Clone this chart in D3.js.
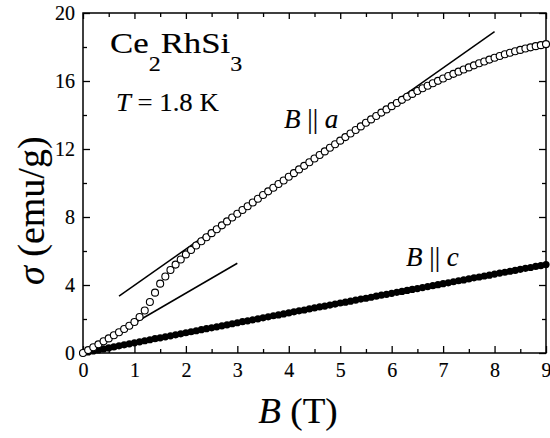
<!DOCTYPE html>
<html>
<head>
<meta charset="utf-8">
<script src="https://cdn.jsdelivr.net/npm/d3@7/dist/d3.min.js"></script>
<style>
  html, body { margin: 0; padding: 0; background: #fff; }
  svg { display: block; }
  svg text { font-family: "Liberation Serif", "Times New Roman", "Tinos", "DejaVu Serif", "Noto Serif", serif; }
</style>
</head>
<body>
<svg id="chart" width="550" height="438"></svg>
<script>
// Magnetic field (T)
const fieldT = [
  0.0, 0.1, 0.2, 0.3, 0.4, 0.5, 0.6, 0.7, 0.8, 0.9,
  1.0, 1.1, 1.2, 1.3, 1.4, 1.5, 1.6, 1.7, 1.8, 1.9,
  2.0, 2.1, 2.2, 2.3, 2.4, 2.5, 2.6, 2.7, 2.8, 2.9,
  3.0, 3.1, 3.2, 3.3, 3.4, 3.5, 3.6, 3.7, 3.8, 3.9,
  4.0, 4.1, 4.2, 4.3, 4.4, 4.5, 4.6, 4.7, 4.8, 4.9,
  5.0, 5.1, 5.2, 5.3, 5.4, 5.5, 5.6, 5.7, 5.8, 5.9,
  6.0, 6.1, 6.2, 6.3, 6.4, 6.5, 6.6, 6.7, 6.8, 6.9,
  7.0, 7.1, 7.2, 7.3, 7.4, 7.5, 7.6, 7.7, 7.8, 7.9,
  8.0, 8.1, 8.2, 8.3, 8.4, 8.5, 8.6, 8.7, 8.8, 8.9,
  9.0
];

// Magnetization (emu/g), field along a
const sigmaA = [
  0.00, 0.17, 0.34, 0.51, 0.69, 0.86, 1.04, 1.22, 1.41, 1.60,
  1.82, 2.12, 2.50, 3.00, 3.55, 4.08, 4.50, 4.88, 5.20, 5.50,
  5.80, 6.06, 6.32, 6.57, 6.81, 7.05, 7.28, 7.51, 7.74, 7.97,
  8.19, 8.41, 8.63, 8.85, 9.07, 9.29, 9.51, 9.72, 9.94, 10.15,
  10.37, 10.58, 10.80, 11.01, 11.22, 11.44, 11.65, 11.86, 12.07, 12.28,
  12.49, 12.70, 12.91, 13.12, 13.33, 13.54, 13.74, 13.94, 14.14, 14.33,
  14.52, 14.71, 14.89, 15.07, 15.24, 15.41, 15.57, 15.72, 15.87, 16.01,
  16.15, 16.29, 16.42, 16.55, 16.68, 16.80, 16.92, 17.04, 17.15, 17.26,
  17.37, 17.47, 17.57, 17.66, 17.75, 17.83, 17.91, 17.98, 18.05, 18.11,
  18.17
];

// Magnetization (emu/g), field along c
const sigmaC = [
  0.00, 0.06, 0.12, 0.18, 0.24, 0.30, 0.36, 0.42, 0.48, 0.54,
  0.60, 0.66, 0.72, 0.78, 0.84, 0.89, 0.95, 1.01, 1.07, 1.13,
  1.19, 1.25, 1.31, 1.37, 1.43, 1.48, 1.54, 1.60, 1.66, 1.72,
  1.78, 1.84, 1.89, 1.95, 2.01, 2.07, 2.13, 2.19, 2.24, 2.30,
  2.36, 2.42, 2.48, 2.53, 2.59, 2.65, 2.71, 2.76, 2.82, 2.88,
  2.94, 2.99, 3.05, 3.11, 3.17, 3.22, 3.28, 3.34, 3.40, 3.45,
  3.51, 3.57, 3.62, 3.68, 3.74, 3.79, 3.85, 3.91, 3.96, 4.02,
  4.08, 4.13, 4.19, 4.25, 4.30, 4.36, 4.42, 4.47, 4.53, 4.58,
  4.64, 4.70, 4.75, 4.81, 4.86, 4.92, 4.98, 5.03, 5.09, 5.14,
  5.20
];

// Straight guide lines: low-field and high-field linear regimes
const lowFitB = [0.0, 3.0];
const lowFitS = [0.0, 5.28];
const highFitB = [0.7, 8.0];
const highFitS = [3.34, 18.9];

// Axis ticks
const xMajor = [0, 1, 2, 3, 4, 5, 6, 7, 8, 9];
const xMinor = [0.5, 1.5, 2.5, 3.5, 4.5, 5.5, 6.5, 7.5, 8.5];
const yMajor = [0, 4, 8, 12, 16, 20];
const yMinor = [2, 6, 10, 14, 18];

const SERIF = "'Liberation Serif', 'Times New Roman', Tinos, 'DejaVu Serif', 'Noto Serif', serif";
const INK = 0.15; // slight outline so glyphs read as heavy as printed type

const svg = d3.select("#chart");
const L = 83, R = 546, T = 13, B = 353;

const x = d3.scaleLinear().domain([0, 9]).range([L, R]);
const y = d3.scaleLinear().domain([0, 20]).range([B, T]);

const axisStyle = g => {
  g.attr("font-family", SERIF);
  g.select(".domain").remove();
  g.selectAll("line").attr("stroke", "#000").attr("stroke-width", 1.3);
  g.selectAll("text").attr("fill", "#000").attr("font-size", 20).style("font-family", SERIF)
    .attr("stroke", "#000").attr("stroke-width", INK);
};

// Bottom axis with labels
svg.append("g").attr("transform", `translate(0,${B})`)
  .call(d3.axisBottom(x).tickValues(xMajor).tickSize(-7).tickPadding(10).tickFormat(d3.format("d")))
  .call(axisStyle);
svg.append("g").attr("transform", `translate(0,${B})`)
  .call(d3.axisBottom(x).tickValues(xMinor).tickSize(-4).tickFormat(""))
  .call(axisStyle);
// Top axis, ticks only
svg.append("g").attr("transform", `translate(0,${T})`)
  .call(d3.axisTop(x).tickValues(xMajor).tickSize(-6).tickFormat(""))
  .call(axisStyle);
svg.append("g").attr("transform", `translate(0,${T})`)
  .call(d3.axisTop(x).tickValues(xMinor).tickSize(-4).tickFormat(""))
  .call(axisStyle);
// Left axis with labels
svg.append("g").attr("transform", `translate(${L},0)`)
  .call(d3.axisLeft(y).tickValues(yMajor).tickSize(-7).tickPadding(8).tickFormat(d3.format("d")))
  .call(axisStyle);
svg.append("g").attr("transform", `translate(${L},0)`)
  .call(d3.axisLeft(y).tickValues(yMinor).tickSize(-4).tickFormat(""))
  .call(axisStyle);
// Right axis, ticks only
svg.append("g").attr("transform", `translate(${R},0)`)
  .call(d3.axisRight(y).tickValues(yMajor).tickSize(-7).tickFormat(""))
  .call(axisStyle);
svg.append("g").attr("transform", `translate(${R},0)`)
  .call(d3.axisRight(y).tickValues(yMinor).tickSize(-4).tickFormat(""))
  .call(axisStyle);

// Plot frame
svg.append("rect")
  .attr("x", L).attr("y", T).attr("width", R - L).attr("height", B - T)
  .attr("fill", "none").attr("stroke", "#000").attr("stroke-width", 1.5);

// Guide lines
const line = d3.line().x(d => x(d[0])).y(d => y(d[1]));
[[lowFitB, lowFitS], [highFitB, highFitS]].forEach(([bs, ss]) => {
  svg.append("path")
    .attr("d", line(bs.map((b, i) => [b, ss[i]])))
    .attr("fill", "none").attr("stroke", "#000").attr("stroke-width", 1.5);
});

// B || c : filled circles
svg.append("g").selectAll("circle")
  .data(fieldT.map((b, i) => [b, sigmaC[i]]))
  .join("circle")
  .attr("cx", d => x(d[0])).attr("cy", d => y(d[1])).attr("r", 3.6)
  .attr("fill", "#000");

// B || a : open circles
svg.append("g").selectAll("circle")
  .data(fieldT.map((b, i) => [b, sigmaA[i]]))
  .join("circle")
  .attr("cx", d => x(d[0])).attr("cy", d => y(d[1])).attr("r", 3.5)
  .attr("fill", "#fff").attr("stroke", "#000").attr("stroke-width", 1.1);

// Text placed at (px,py), optionally widened by sx
function txt(px, py, size, sx = 1) {
  return svg.append("text")
    .attr("transform", `translate(${px},${py}) scale(${sx},1)`)
    .attr("font-size", size).attr("fill", "#000")
    .attr("stroke", "#000").attr("stroke-width", INK)
    .style("font-family", SERIF);
}

// Compound name
const title = txt(110, 53, 29, 1.2);
title.append("tspan").text("Ce");
title.append("tspan").attr("font-size", 20).attr("dy", 18).text("2");
title.append("tspan").attr("dy", -18).text("RhSi");
title.append("tspan").attr("font-size", 20).attr("dy", 18).text("3");

// Temperature
const temp = txt(116, 111, 25, 1.07);
temp.append("tspan").attr("font-style", "italic").text("T");
temp.append("tspan").text(" = 1.8 K");

// Series labels
function seriesLabel(px, py, dir) {
  const t = txt(px, py, 27);
  t.append("tspan").attr("font-style", "italic").text("B");
  t.append("tspan").text(" || ");
  t.append("tspan").attr("font-style", "italic").text(dir);
}
seriesLabel(284, 128, "a");
seriesLabel(406, 266, "c");

// Axis titles
const xt = txt(298, 423, 35, 1.06).attr("text-anchor", "middle");
xt.append("tspan").attr("font-style", "italic").text("B");
xt.append("tspan").text(" (T)");

const yt = svg.append("text").attr("transform", "translate(44,285) rotate(-90)")
  .attr("font-size", 38).attr("fill", "#000")
  .attr("stroke", "#000").attr("stroke-width", INK)
  .style("font-family", SERIF);
yt.append("tspan").attr("font-style", "italic").text("σ");
yt.append("tspan").text(" (emu/g)");
</script>
</body>
</html>
